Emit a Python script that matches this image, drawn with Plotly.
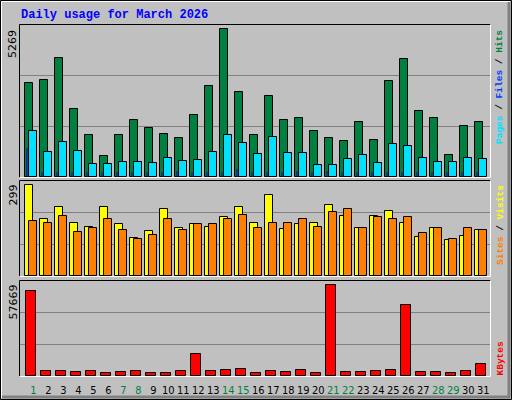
import plotly.graph_objects as go
from plotly.subplots import make_subplots

days = list(range(1, 32))
weekend_days = [1, 7, 8, 14, 15, 21, 22, 28, 29]

hits = [3338, 3445, 4232, 2408, 1514, 763, 1514, 2050, 1764, 1550, 1407, 2229, 3230, 5269, 3016, 1514,
        2873, 2050, 2122, 1657, 1407, 1299, 1979, 1335, 3409, 4196, 2372, 2122, 799, 1836, 1979]
files = [1657, 906, 1264, 942, 477, 477, 548, 548, 513, 691, 584, 620, 906, 1514, 1228, 834,
         1442, 870, 870, 441, 441, 656, 799, 513, 1192, 1120, 691, 548, 548, 691, 656]
pages = [1013, 143, 160, 143, 160, 160, 150, 143, 160, 143, 191, 150, 160, 143, 262, 143,
         143, 160, 191, 143, 191, 160, 143, 150, 160, 143, 143, 150, 143, 143, 143]
visits = [299, 188, 227, 175, 162, 227, 169, 123, 146, 218, 156, 169, 159, 192, 227, 172,
          266, 153, 169, 175, 231, 198, 156, 198, 214, 172, 127, 156, 117, 130, 149]
sites = [179, 172, 198, 143, 156, 185, 149, 120, 133, 185, 149, 169, 169, 185, 201, 156,
         175, 172, 185, 159, 211, 218, 156, 192, 185, 192, 140, 156, 120, 156, 149]
kbytes = [53886, 3157, 3157, 2526, 3157, 1894, 2526, 3157, 1894, 1894, 3157, 14100, 3157, 3789, 4420, 1894,
          3157, 2526, 3789, 1894, 57669, 2526, 2526, 3157, 3789, 45040, 2526, 2526, 1894, 3157, 7788]

W, H = 512, 400
ML, MR, MT, MB = 20, 22, 25, 24
PW, PH = W - ML - MR, H - MT - MB


def px_x(x):
    return (x - ML) / PW


def px_y(y):
    return (H - MB - y) / PH


fig = make_subplots(rows=3, cols=1, shared_xaxes=True)
line = dict(color='black', width=1)

fig.add_bar(x=days, y=hits, width=0.49, offset=-0.53, marker=dict(color='#008040', line=line), row=1, col=1)
fig.add_bar(x=days, y=pages, width=0.15, offset=-0.42, marker=dict(color='#0040FF', line=dict(color='black', width=0.5)), row=1, col=1)
fig.add_bar(x=days, y=files, width=0.49, offset=-0.27, marker=dict(color='#00E0FF', line=line), row=1, col=1)
fig.add_bar(x=days, y=visits, width=0.49, offset=-0.53, marker=dict(color='#FFFF00', line=line), row=2, col=1)
fig.add_bar(x=days, y=sites, width=0.49, offset=-0.27, marker=dict(color='#FF8000', line=line), row=2, col=1)
fig.add_bar(x=days, y=kbytes, width=0.67, offset=-0.47, marker=dict(color='#FF0000', line=line), row=3, col=1)

ticktext = [f"<span style='color:{'#008040' if d in weekend_days else 'black'}'>{d}</span>" for d in days]

domains = [(px_y(177), px_y(25)), (px_y(276), px_y(181)), (px_y(376), px_y(281))]
tops = [5422, 311, 59940]
for i in range(3):
    fig.update_yaxes(row=i + 1, col=1, domain=list(domains[i]), range=[0, tops[i]],
                     tickvals=[tops[i] / 3, tops[i] * 2 / 3], showticklabels=False,
                     showgrid=True, gridcolor='#808080', gridwidth=1, zeroline=False, fixedrange=True)
    fig.update_xaxes(row=i + 1, col=1, range=[0.111, 31.45], showgrid=False, zeroline=False,
                     tickvals=days, ticktext=ticktext, showticklabels=(i == 2), ticks='', tickangle=0,
                     automargin=False)

fig.update_xaxes(row=3, col=1, tickfont=dict(family='DejaVu Sans Condensed', size=11), ticklabelstandoff=6)

shapes = []
# outer bevel frame
shapes.append(dict(type='rect', xref='paper', yref='paper', x0=px_x(0.5), x1=px_x(511.5), y0=px_y(399.5), y1=px_y(0.5),
                   line=dict(color='black', width=1), layer='below'))
shapes.append(dict(type='line', xref='paper', yref='paper', x0=px_x(1.5), x1=px_x(510), y0=px_y(1.5), y1=px_y(1.5), line=dict(color='white', width=1)))
shapes.append(dict(type='line', xref='paper', yref='paper', x0=px_x(1.5), x1=px_x(1.5), y0=px_y(1.5), y1=px_y(398), line=dict(color='white', width=1)))
shapes.append(dict(type='line', xref='paper', yref='paper', x0=px_x(2), x1=px_x(510), y0=px_y(397), y1=px_y(397), line=dict(color='#808080', width=3)))
shapes.append(dict(type='line', xref='paper', yref='paper', x0=px_x(509), x1=px_x(509), y0=px_y(2), y1=px_y(398), line=dict(color='#808080', width=3)))
# panel bevels
for top, bot in [(25, 177), (181, 276), (281, 376)]:
    shapes.append(dict(type='line', xref='paper', yref='paper', x0=px_x(19.5), x1=px_x(490.5), y0=px_y(top - 0.5), y1=px_y(top - 0.5), line=dict(color='black', width=1)))
    shapes.append(dict(type='line', xref='paper', yref='paper', x0=px_x(19.5), x1=px_x(19.5), y0=px_y(top - 0.5), y1=px_y(bot + 0.5), line=dict(color='black', width=1)))
    shapes.append(dict(type='line', xref='paper', yref='paper', x0=px_x(19.5), x1=px_x(490.5), y0=px_y(bot + 0.5), y1=px_y(bot + 0.5), line=dict(color='white', width=1)))
    shapes.append(dict(type='line', xref='paper', yref='paper', x0=px_x(490.5), x1=px_x(490.5), y0=px_y(top - 0.5), y1=px_y(bot + 0.5), line=dict(color='white', width=1)))

mono = 'Liberation Mono'
annotations = [
    dict(text='<b>Daily usage for March 2026</b>', x=px_x(19), y=px_y(15), xanchor='left', yanchor='middle',
         font=dict(family=mono, size=12, color='#0000FF')),
    dict(text='5269', x=px_x(13), y=px_y(28), xanchor='center', yanchor='top', textangle=-90,
         font=dict(family='DejaVu Sans', size=11, color='black')),
    dict(text='299', x=px_x(13), y=px_y(183), xanchor='center', yanchor='top', textangle=-90,
         font=dict(family='DejaVu Sans', size=11, color='black')),
    dict(text='57669', x=px_x(13), y=px_y(283), xanchor='center', yanchor='top', textangle=-90,
         font=dict(family='DejaVu Sans', size=11, color='black')),
    dict(text="<b><span style='color:#00E0FF'>Pages</span> / <span style='color:#0040FF'>Files</span> / <span style='color:#008040'>Hits</span></b>",
         x=px_x(500), y=px_y(28), xanchor='center', yanchor='top', textangle=-90,
         font=dict(family=mono, size=9.5, color='black')),
    dict(text="<b><span style='color:#FF8000'>Sites</span> / <span style='color:#FFFF00'>Visits</span></b>",
         x=px_x(500), y=px_y(183), xanchor='center', yanchor='top', textangle=-90,
         font=dict(family=mono, size=9.5, color='black')),
    dict(text="<b><span style='color:#FF0000'>KBytes</span></b>",
         x=px_x(500), y=px_y(377), xanchor='center', yanchor='bottom', textangle=-90,
         font=dict(family=mono, size=9.5, color='black')),
]
for a in annotations:
    a.update(xref='paper', yref='paper', showarrow=False)

fig.update_layout(
    width=W, height=H, margin=dict(l=ML, r=MR, t=MT, b=MB, autoexpand=False),
    paper_bgcolor='#C0C0C0', plot_bgcolor='#C0C0C0',
    barmode='overlay', showlegend=False, bargap=0,
    shapes=shapes, annotations=annotations,
)

fig.write_html("out.html", config={'displayModeBar': False},
               post_script="document.body.style.margin='0';")
